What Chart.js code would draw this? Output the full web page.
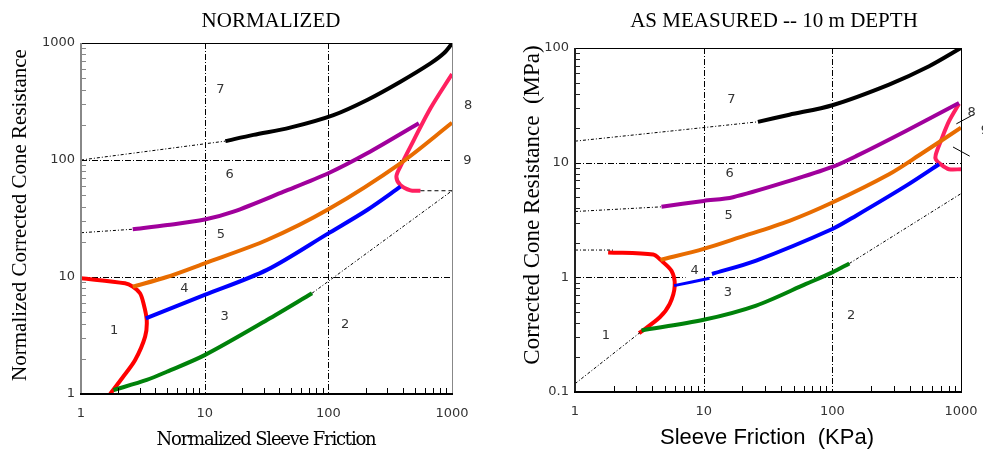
<!DOCTYPE html>
<html lang="en">
<head>
    <meta charset="UTF-8">
    <title>CPT Soil Behaviour Type Charts</title>
    <script src="https://cdn.jsdelivr.net/npm/chart.js"></script>
    <style>
        body { margin: 0; background: #fff; }
        canvas { position: absolute; top: 0; }
        #normChart { left: 0; }
        #measChart { left: 490px; }
    </style>
</head>
<body>
    <canvas id="normChart" width="490" height="452"></canvas>
    <canvas id="measChart" width="493" height="452"></canvas>

    <script>
        // ---- NORMALIZED chart: zone boundaries as [sleeve friction, cone resistance] ----
        const norm7 = [[14.7, 145], [24.8, 164], [49, 189], [110, 242], [206, 326], [383, 467], [670, 670], [859, 817], [1000, 990]];
        const norm7Ext = [[1, 100], [14.7, 145]];
        const norm6 = [[2.62, 25.6], [5, 27.8], [10, 31], [17.1, 36.2], [43.5, 53.6], [100, 77], [206, 114], [539, 206]];
        const norm6Ext = [[1, 23.9], [2.62, 25.6]];
        const norm5 = [[2.62, 8.27], [4.94, 10], [10, 13.1], [31.9, 20.7], [100, 37.9], [383, 93.7], [1000, 208]];
        const norm4 = [[3.34, 4.43], [10, 7.02], [31.9, 11.5], [100, 23.6], [206, 37.4], [383, 59.1]];
        const norm3 = [[1.83, 1.08], [3.4, 1.32], [4.94, 1.55], [10, 2.15], [31.9, 4.29], [73.8, 7.26]];
        const norm3Ext = [[73.8, 7.26], [1000, 54.6]];
        const norm1 = [[1, 9.77], [2.27, 8.83], [2.62, 8.27], [3.0, 7.26], [3.2, 5.96], [3.4, 4.29], [3.3, 3.09], [2.74, 1.95], [2.2, 1.41], [1.72, 1]];
        const norm89 = [[1000, 543], [670, 277], [491, 148], [383, 88], [355, 72], [383, 61], [461, 55], [556, 54.6]];
        const norm9Ext = [[556, 54.6], [1000, 54.6]];
        const normLabels = ['7', '6', '5', '4', '3', '2', '1', '8', '9'];
        const normLabelX = [13.4, 15.9, 13.5, 6.86, 14.5, 137, 1.85, 1352, 1330];
        const normLabelY = [402, 74.5, 22.9, 7.9, 4.58, 3.89, 3.45, 290, 98];
        const normXTicks = [1, 10, 100, 1000];
        const normYTicks = [1, 10, 100, 1000];

        // ---- AS MEASURED chart: [sleeve friction kPa, cone resistance MPa] ----
        const meas7 = [[26.4, 22.7], [46.4, 26.2], [100, 31.7], [276, 48], [565, 69.3], [1000, 100]];
        const meas7Ext = [[1, 15.4], [26.4, 22.7]];
        const meas6 = [[4.7, 4.12], [10, 4.64], [16.9, 5.0], [46.4, 6.93], [100, 9.18], [153, 11.4], [373, 18.9], [965, 33.2]];
        const meas6Ext = [[1, 3.75], [4.7, 4.12]];
        const meas5 = [[4.62, 1.42], [10, 1.77], [19, 2.23], [46.4, 3.11], [100, 4.49], [276, 7.93], [472, 11.6], [1000, 20.2]];
        const meas4a = [[5.89, 0.847], [11.1, 0.98]];
        const meas4b = [[11.6, 1.07], [25.6, 1.4], [100, 2.64], [153, 3.45], [373, 6.27], [675, 9.68]];
        const meas3 = [[3.29, 0.344], [10, 0.426], [25.6, 0.567], [62.5, 0.876], [100, 1.105], [135.5, 1.32]];
        const meas3Ext = [[135.5, 1.32], [1000, 5.37]];
        const measLowExt = [[1, 0.118], [3.2, 0.33]];
        const meas1 = [[1.81, 1.65], [4.05, 1.58], [4.62, 1.42], [5.62, 1.14], [5.96, 0.847], [5.45, 0.587], [4.56, 0.449], [3.15, 0.326]];
        const meas1Ext = [[1, 1.73], [1.98, 1.73]];
        const meas89 = [[965, 32.6], [807, 23], [696, 15.4], [637, 11.8], [637, 10.7], [696, 9.68], [807, 8.77], [1000, 8.77]];
        const meas8Leader = [[920, 21.8], [1262, 26.4]];
        const meas9Leader = [[867, 13.7], [1168, 11.4]];
        const measLabels = ['7', '6', '5', '4', '3', '2', '1', '8', '9'];
        const measLabelX = [16.4, 15.9, 15.6, 8.5, 15.4, 140, 1.74, 1210, 1535];
        const measLabelY = [35.6, 8.02, 3.44, 1.14, 0.74, 0.465, 0.311, 27.2, 18.9];
        const measXTicks = [1, 10, 100, 1000];
        const measYTicks = [0.1, 1, 10, 100];

        const BLACK = '#000', PURPLE = '#a0009c', ORANGE = '#e86c00', BLUE = '#0000ff',
              GREEN = '#00820a', RED = '#ff0000', PINK = '#ff2060';

        function curve(data, color, width) {
            return { data: data, borderColor: color, borderWidth: width || 4, showLine: true, tension: 0.3 };
        }
        function dotted(data, dash) {
            return { data: data, borderColor: '#000', borderWidth: 1, showLine: true, tension: 0,
                     borderDash: dash || [3, 2, 1, 2] };
        }

        // draws frame, grid, ticks and texts from the chart's own scales
        const framePlugin = {
            id: 'frame',
            beforeDatasetsDraw(chart, args, o) {
                const ctx = chart.ctx, a = chart.chartArea;
                const xs = chart.scales.x, ys = chart.scales.y;
                ctx.save();
                ctx.strokeStyle = '#000';
                ctx.lineWidth = 1;
                ctx.setLineDash([6, 2, 1, 2]);
                o.xTicks.slice(1, -1).forEach(v => {
                    const px = Math.round(xs.getPixelForValue(v)) + 0.5;
                    ctx.beginPath(); ctx.moveTo(px, a.top); ctx.lineTo(px, a.bottom); ctx.stroke();
                });
                o.yTicks.slice(1, -1).forEach(v => {
                    const py = Math.round(ys.getPixelForValue(v)) + 0.5;
                    ctx.beginPath(); ctx.moveTo(a.left, py); ctx.lineTo(a.right, py); ctx.stroke();
                });
                ctx.setLineDash([]);
                // white patches behind the zone numbers
                ctx.fillStyle = '#fff';
                o.labels.forEach((t, i) => {
                    const px = xs.getPixelForValue(o.labelX[i]), py = ys.getPixelForValue(o.labelY[i]);
                    if (px < a.right) ctx.fillRect(px - 9, py - 9, 18, 18);
                });
                ctx.restore();
            },
            afterDatasetsDraw(chart, args, o) {
                const ctx = chart.ctx, a = chart.chartArea;
                const xs = chart.scales.x, ys = chart.scales.y;
                ctx.save();
                // minor ticks
                ctx.lineWidth = 1;
                for (let d = o.yTicks[0]; d < o.yTicks[o.yTicks.length - 1]; d *= 10) {
                    for (let m = 2; m <= 9; m++) {
                        const py = Math.round(ys.getPixelForValue(d * m)) + 0.5;
                        ctx.strokeStyle = o.leftColor;
                        ctx.beginPath(); ctx.moveTo(a.left, py); ctx.lineTo(a.left + 5, py); ctx.stroke();
                    }
                }
                for (let d = o.xTicks[0]; d < o.xTicks[o.xTicks.length - 1]; d *= 10) {
                    for (let m = 2; m <= 9; m++) {
                        const px = Math.round(xs.getPixelForValue(d * m)) + 0.5;
                        ctx.strokeStyle = '#000';
                        ctx.beginPath(); ctx.moveTo(px, a.bottom); ctx.lineTo(px, a.bottom - 6); ctx.stroke();
                    }
                }
                // frame
                ctx.strokeStyle = '#000'; ctx.lineWidth = 1;
                ctx.beginPath(); ctx.moveTo(a.left, a.top + 0.5); ctx.lineTo(a.right, a.top + 0.5); ctx.stroke();
                ctx.strokeStyle = o.rightColor;
                ctx.beginPath(); ctx.moveTo(a.right + 0.5, a.top); ctx.lineTo(a.right + 0.5, a.bottom); ctx.stroke();
                ctx.lineWidth = 2;
                ctx.strokeStyle = o.leftColor;
                ctx.beginPath(); ctx.moveTo(a.left, a.top); ctx.lineTo(a.left, a.bottom + 1); ctx.stroke();
                ctx.strokeStyle = '#000';
                ctx.beginPath(); ctx.moveTo(a.left - 1, a.bottom); ctx.lineTo(a.right + 1, a.bottom); ctx.stroke();

                // tick labels
                ctx.fillStyle = '#333';
                ctx.font = '13px "DejaVu Sans"';
                ctx.textBaseline = 'middle';
                ctx.textAlign = 'center';
                o.xTicks.forEach(v => ctx.fillText(String(v), xs.getPixelForValue(v), a.bottom + 20));
                ctx.textAlign = 'right';
                o.yTicks.forEach(v => ctx.fillText(String(v), a.left - 6, ys.getPixelForValue(v)));

                // zone numbers
                ctx.textAlign = 'center';
                o.labels.forEach((t, i) => ctx.fillText(t, xs.getPixelForValue(o.labelX[i]), ys.getPixelForValue(o.labelY[i])));

                // titles
                ctx.fillStyle = '#000';
                ctx.font = '21px "Liberation Serif"';
                ctx.fillText(o.title, o.titlePos[0], o.titlePos[1]);
                ctx.font = o.xTitleFont;
                if (o.xTitleSpacing) ctx.letterSpacing = o.xTitleSpacing;
                ctx.fillText(o.xTitle, o.xTitlePos[0], o.xTitlePos[1]);
                ctx.letterSpacing = '0px';
                ctx.font = o.yTitleFont;
                ctx.translate(o.yTitlePos[0], o.yTitlePos[1]);
                ctx.rotate(-Math.PI / 2);
                ctx.fillText(o.yTitle, 0, 0);
                ctx.restore();
            }
        };

        function makeChart(id, datasets, xr, yr, padding, frameOpts) {
            return new Chart(document.getElementById(id), {
                type: 'scatter',
                data: { datasets: datasets },
                options: {
                    responsive: false,
                    animation: false,
                    devicePixelRatio: 1,
                    layout: { padding: padding },
                    elements: { point: { radius: 0 } },
                    scales: {
                        x: { type: 'logarithmic', min: xr[0], max: xr[1], display: false },
                        y: { type: 'logarithmic', min: yr[0], max: yr[1], display: false }
                    },
                    plugins: { legend: { display: false }, tooltip: { enabled: false }, frame: frameOpts }
                },
                plugins: [framePlugin]
            });
        }

        makeChart('normChart', [
            dotted(norm7Ext), dotted(norm6Ext), dotted(norm3Ext), dotted(norm9Ext, [4, 3]),
            curve(norm7, BLACK), curve(norm6, PURPLE), curve(norm5, ORANGE), curve(norm4, BLUE),
            curve(norm3, GREEN), curve(norm1, RED), curve(norm89, PINK)
        ], [1, 1000], [1, 1000], { left: 81, right: 38, top: 43, bottom: 58 }, {
            xTicks: normXTicks, yTicks: normYTicks,
            labels: normLabels, labelX: normLabelX, labelY: normLabelY,
            leftColor: '#888', rightColor: '#888',
            title: 'NORMALIZED', titlePos: [271, 21],
            xTitle: 'Normalized Sleeve Friction', xTitlePos: [266, 440],
            xTitleFont: '18px "DejaVu Serif"', xTitleSpacing: '-1.2px',
            yTitle: 'Normalized Corrected Cone Resistance', yTitlePos: [20, 215],
            yTitleFont: '21px "Liberation Serif"'
        });

        makeChart('measChart', [
            dotted(meas7Ext), dotted(meas6Ext), dotted(meas3Ext), dotted(measLowExt), dotted(meas1Ext),
            Object.assign(dotted(meas8Leader, []), { clip: false }),
            Object.assign(dotted(meas9Leader, []), { clip: false }),
            curve(meas7, BLACK), curve(meas6, PURPLE), curve(meas5, ORANGE),
            curve(meas4a, BLUE, 3), curve(meas4b, BLUE),
            curve(meas3, GREEN), curve(meas1, RED), curve(meas89, PINK)
        ], [1, 1000], [0.1, 100], { left: 85, right: 22, top: 48, bottom: 60 }, {
            xTicks: measXTicks, yTicks: measYTicks,
            labels: measLabels, labelX: measLabelX, labelY: measLabelY,
            leftColor: '#222', rightColor: '#000',
            title: 'AS MEASURED -- 10 m DEPTH', titlePos: [284, 21],
            xTitle: 'Sleeve Friction  (KPa)', xTitlePos: [277, 438],
            xTitleFont: '22px "Liberation Sans"',
            yTitle: 'Corrected Cone Resistance  (MPa)', yTitlePos: [43, 205],
            yTitleFont: '23px "Liberation Serif"'
        });
    </script>
</body>
</html>
